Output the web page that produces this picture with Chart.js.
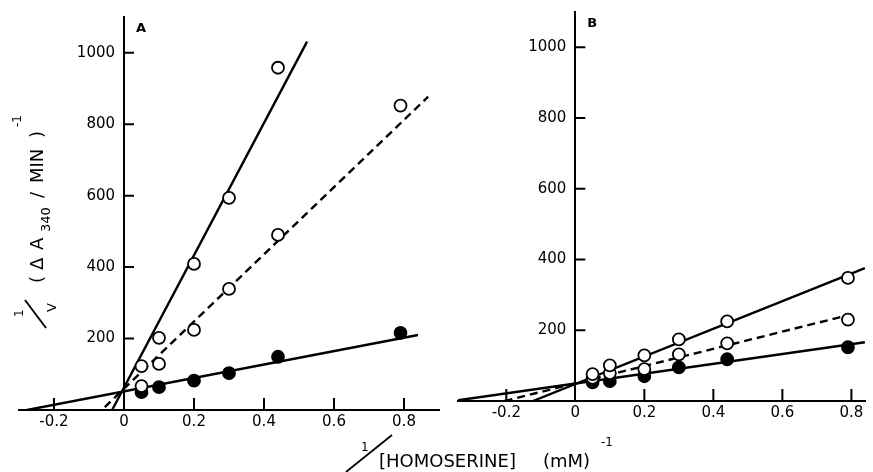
<!DOCTYPE html>
<html>
<head>
<meta charset="utf-8">
<script src="https://cdn.jsdelivr.net/npm/chart.js@4.4.0/dist/chart.umd.min.js"></script>
<style>
  html, body { margin: 0; padding: 0; background: #fff; }
  #wrap { position: relative; width: 873px; height: 472px; }
  #wrap canvas { position: absolute; left: 0; top: 0; }
</style>
</head>
<body>
<div id="wrap">
  <canvas id="panelA" width="873" height="472"></canvas>
  <canvas id="panelB" width="873" height="472"></canvas>
</div>
<script>
// 1/[homoserine] (mM)^-1 at which rates were measured
const invHomoserine = [0.05, 0.1, 0.2, 0.3, 0.44, 0.79];

// Panel A, 1/v values (null = off scale)
const aSteepOpen = [123, 202, 409, 594, 958, null];
const aDashedOpen = [67, 129, 224, 339, 490, 852];
const aFilled = [50, 64, 82, 103, 149, 216];

// Panel A fitted lines, [x, y] end points
const aSteepFit = [[-0.034, 0], [0.523, 1031]];
const aDashedFit = [[-0.055, 8], [0.869, 877]];
const aFilledFit = [[-0.277, 0], [0.84, 210]];

// Panel B
const bUpperOpen = [76, 101, 129, 174, 225, 348];
const bDashedOpen = [65, 79, 90, 132, 163, 230];
const bFilled = [53, 56, 70, 95, 118, 152];

const bUpperFit = [[-0.123, 0], [0.839, 376]];
const bDashedFit = [[-0.205, 0], [0.80, 245]];
const bFilledFit = [[-0.34, 2], [0.839, 166]];

const xTicks = [-0.2, 0, 0.2, 0.4, 0.6, 0.8];
const yTicks = [200, 400, 600, 800, 1000];

const FONT = '"DejaVu Sans", sans-serif';

const toPoints = ys => invHomoserine.map((x, i) => ({ x, y: ys[i] })).filter(p => p.y !== null);
const toLine = ends => ends.map(([x, y]) => ({ x, y }));

function markers(ys, filled) {
  return {
    data: toPoints(ys),
    showLine: false,
    pointRadius: 6,
    pointBorderWidth: 1.8,
    pointBorderColor: '#000',
    pointBackgroundColor: filled ? '#000' : '#fff',
    order: 0
  };
}

function fit(ends, dashed) {
  return {
    data: toLine(ends),
    showLine: true,
    pointRadius: 0,
    borderColor: '#000',
    borderWidth: 2.4,
    borderDash: dashed ? [8, 5] : [],
    order: 2
  };
}

// tick marks point inward, plus the panel letter
const inwardTicks = {
  id: 'inwardTicks',
  afterDraw(chart, args, opts) {
    const { ctx, scales: { x, y }, chartArea } = chart;
    const x0 = x.getPixelForValue(0), y0 = y.getPixelForValue(0);
    ctx.save();
    ctx.strokeStyle = '#000';
    ctx.lineWidth = 2;
    ctx.beginPath();
    x.ticks.forEach(t => {
      if (t.value === 0) return;
      const px = x.getPixelForValue(t.value);
      ctx.moveTo(px, y0);
      ctx.lineTo(px, y0 - 12);
    });
    y.ticks.forEach(t => {
      const py = y.getPixelForValue(t.value);
      ctx.moveTo(x0, py);
      ctx.lineTo(x0 + 10, py);
    });
    ctx.stroke();
    ctx.fillStyle = '#000';
    ctx.font = 'bold 13px ' + FONT;
    ctx.textAlign = 'left';
    ctx.textBaseline = 'middle';
    ctx.fillText(opts.letter, x0 + 12, chartArea.top + 12);
    ctx.restore();
  }
};

// shared axis titles, drawn on panel A's canvas
const axisTitles = {
  id: 'axisTitles',
  afterDraw(chart) {
    const ctx = chart.ctx;
    const big = '18px ' + FONT, small = '12px ' + FONT, sub = '13px ' + FONT;
    ctx.save();
    ctx.fillStyle = '#000';
    ctx.strokeStyle = '#000';
    ctx.lineWidth = 1.8;
    ctx.textAlign = 'left';
    ctx.textBaseline = 'alphabetic';

    // x title: 1/[HOMOSERINE] (mM)^-1
    ctx.font = small;
    ctx.fillText('1', 361, 451);
    ctx.beginPath(); ctx.moveTo(346, 472); ctx.lineTo(392, 435); ctx.stroke();
    ctx.font = big;
    ctx.fillText('[HOMOSERINE]', 379, 467);
    ctx.fillText('(mM)', 543, 467);
    ctx.font = small;
    ctx.fillText('-1', 601, 446);

    // y title: 1/V (ΔA340/MIN)^-1, rotated
    ctx.translate(43, 285);
    ctx.rotate(-Math.PI / 2);
    ctx.font = small;
    ctx.fillText('1', -32, -20);
    ctx.beginPath(); ctx.moveTo(-43, 3); ctx.lineTo(-15, -18); ctx.stroke();
    ctx.font = sub;
    ctx.fillText('V', -27, 13);
    ctx.font = big;
    ctx.fillText('(', 2, 0);
    ctx.fillText('Δ', 15, 0);
    ctx.fillText('A', 35, 0);
    ctx.font = sub;
    ctx.fillText('340', 53, 7);
    ctx.font = big;
    ctx.fillText('/', 87, 0);
    ctx.fillText('MIN', 102, 0);
    ctx.fillText(')', 147, 0);
    ctx.font = small;
    ctx.fillText('-1', 158, -22);
    ctx.restore();
  }
};

function panelOptions(xMin, xMax, padding, letter) {
  const tickFont = { family: FONT, size: 15 };
  return {
    responsive: false,
    animation: false,
    layout: { padding },
    plugins: {
      legend: { display: false },
      tooltip: { enabled: false },
      inwardTicks: { letter }
    },
    scales: {
      x: {
        type: 'linear',
        min: xMin,
        max: xMax,
        position: { y: 0 },
        grid: { display: false, drawTicks: false },
        border: { display: true, color: '#000', width: 2 },
        afterBuildTicks: s => { s.ticks = xTicks.map(value => ({ value })); },
        ticks: {
          color: '#000',
          font: tickFont,
          padding: 3,
          autoSkip: false,
          maxRotation: 0,
          callback: v => (v === 0 ? '0' : v.toFixed(1))
        }
      },
      y: {
        type: 'linear',
        min: 0,
        max: 1100,
        position: { x: 0 },
        grid: { display: false, drawTicks: false },
        border: { display: true, color: '#000', width: 2 },
        afterBuildTicks: s => { s.ticks = yTicks.map(value => ({ value })); },
        ticks: {
          color: '#000',
          font: tickFont,
          autoSkip: false,
          callback: v => String(v) + '\u2002\u200a'
        }
      }
    }
  };
}

new Chart(document.getElementById('panelA'), {
  type: 'scatter',
  data: {
    datasets: [
      markers(aSteepOpen, false),
      markers(aDashedOpen, false),
      markers(aFilled, true),
      fit(aSteepFit, false),
      fit(aDashedFit, true),
      fit(aFilledFit, false)
    ]
  },
  options: panelOptions(-0.3, 0.9, { left: 19, right: 434, top: 17, bottom: 62 }, 'A'),
  plugins: [inwardTicks, axisTitles]
});

new Chart(document.getElementById('panelB'), {
  type: 'scatter',
  data: {
    datasets: [
      markers(bUpperOpen, false),
      markers(bDashedOpen, false),
      markers(bFilled, true),
      fit(bUpperFit, false),
      fit(bDashedFit, true),
      fit(bFilledFit, false)
    ]
  },
  options: panelOptions(-0.34, 0.84, { left: 458, right: 0, top: 10, bottom: 71 }, 'B'),
  plugins: [inwardTicks]
});
</script>
</body>
</html>
